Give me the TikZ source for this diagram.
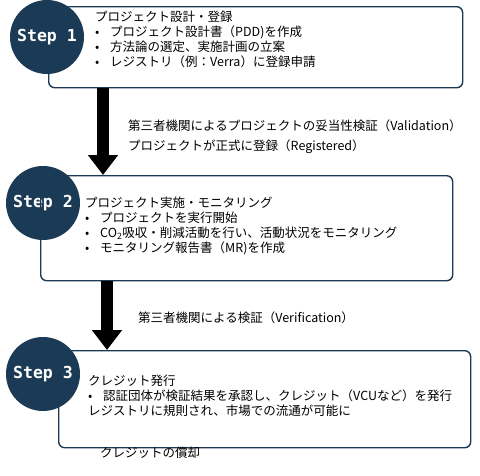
\documentclass[tikz,border=0pt]{standalone}
\usepackage{fontspec}
\setmainfont{Noto Sans CJK JP}
\newfontfamily\stepfont{DejaVu Sans Mono}
\usetikzlibrary{arrows.meta}

\definecolor{navy}{HTML}{1B3A55}

\newcommand{\itm}{\makebox[15pt][l]{•}}

\begin{document}
\begin{tikzpicture}[x=1pt, y=-1pt]
% Define styles
\tikzset{
    stepcirc/.style={circle, fill=navy, minimum size=74pt, inner sep=0pt,
        text=white, font=\stepfont\bfseries\fontsize{16.5}{18}\selectfont},
    stepbox/.style={rectangle, draw=navy, line width=1.4pt, rounded corners=6pt,
        anchor=north west, inner sep=0pt},
    body/.style={anchor=north west, align=left, inner sep=0pt,
        font=\fontsize{12.5}{14.8}\selectfont},
    note/.style={anchor=west, inner sep=0pt, font=\fontsize{12.5}{14.5}\selectfont},
    fatarrow/.style={line width=12pt, -{Triangle[width=29pt, length=20pt]}}
}

\useasboundingbox (0,0) rectangle (480,475);

% Step 1
\node[stepbox, fill=white, minimum width=414pt, minimum height=81pt] (b1) at (48,6) {};
\node[stepcirc] (c1) at (47,37) {Step 1};
\node[body] (t1) at (95,11) {プロジェクト設計・登録\\
\itm プロジェクト設計書（PDD)を作成\\
\itm 方法論の選定、実施計画の立案\\
\itm レジストリ（例：Verra）に登録申請};

% Step 2
\node[stepcirc] (c2) at (43,203) {Step 2};
\node[stepbox, minimum width=412pt, minimum height=105pt] (b2) at (40,175) {};
\node[body] (t2) at (85,197) {プロジェクト実施・モニタリング\\
\itm プロジェクトを実行開始\\
\itm CO\textsubscript{2}吸収・削減活動を行い、活動状況をモニタリング\\
\itm モニタリング報告書（MR)を作成};

% Step 3
\node[stepcirc] (c3) at (43,374) {Step 3};
\node[stepbox, minimum width=412pt, minimum height=97pt] (b3) at (58,350) {};
\node[body] (t3) at (88,375) {クレジット発行\\
\itm 認証団体が検証結果を承認し、クレジット（VCUなど）を発行\\
レジストリに規則され、市場での流通が可能に};

% Arrows
\draw[fatarrow] ([xshift=55pt]b1.south west) -- ([xshift=63pt]b2.north west);
\draw[fatarrow] ([xshift=67pt]b2.south west) -- ([xshift=49pt]b3.north west);

% Labels
\node[note] (l1) at (128,126) {第三者機関によるプロジェクトの妥当性検証（Validation）};
\node[note] (l2) at (128,147) {プロジェクトが正式に登録（Registered）};
\node[note] (l3) at (138,318) {第三者機関による検証（Verification）};
\node[note] (l4) at (100,453) {クレジットの償却};

\end{tikzpicture}
\end{document}
